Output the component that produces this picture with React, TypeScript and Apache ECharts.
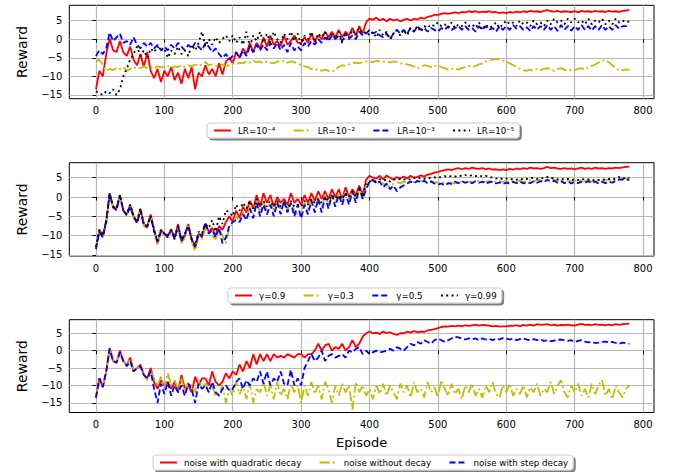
import React, { useEffect, useRef } from "react";
import * as echarts from "echarts";

// Episode positions of the sampled readings (every 5 episodes)
const EPISODES: number[] = Array.from({ length: 157 }, (_, i) => i * 5);
const X_TICKS = [0, 100, 200, 300, 400, 500, 600, 700, 800];
const Y_TICKS = [-15, -10, -5, 0, 5];

// ---- Panel 1: learning rates ----
const LR_1E4 = [
  -13.5, -8.5, -10, -4, 0.2, -3, -3.5, -0.5, -3.5, -4.5,
  -2, -5.5, -7, -4, -7.5, -3.5, -8.5, -10.5, -8, -11.5,
  -8.5, -10, -7.5, -11, -9, -12, -8, -10.5, -7.5, -13.5,
  -9, -10, -7, -9.5, -8, -10, -6.5, -9.5, -6, -5,
  -6.5, -3.5, -5, -2.5, -4, -1, -3.5, -1, -2.5, 0.5,
  -2, 1, -1.5, -0.5, -2, 1, -1.5, -0.5, 1, -1,
  -1, 0.5, -1, 1.5, -0.5, 1, 0, 2, 0.5, 2,
  0.5, 2.5, 0.5, 2, 1, 3, 1, 3.5, 1.5, 4.5,
  5.5, 5.2, 5.8, 5, 5.5, 4.8, 5.5, 5, 5.3, 4.8,
  5.2, 5.5, 5, 5.5, 5.3, 5.8, 5.5, 6, 6.2, 6.5,
  6.5, 6.8, 7, 6.8, 7, 7.2, 7, 7.3, 7.2, 7.5,
  7.3, 7.5, 7.2, 7.4, 7.3, 7.5, 7.2, 7.3, 7, 7.2,
  7, 7.3, 7.1, 7.4, 7.2, 7.5, 7.3, 7.6, 7.4, 7.5,
  7.3, 7.6, 7.8, 7.5, 7.4, 7.6, 7.3, 7.5, 7.4, 7.3,
  7.5, 7.2, 7.6, 7.4, 7.5, 7.3, 7.6, 7.4, 7.5, 7.3,
  7.6, 7.4, 7.5, 7.3, 7.6, 7.7, 7.8,
];
const LR_1E2 = [
  -6, -5.5, -7, -8.5, -8, -8.3, -7.8, -8, -7.5, -8.5,
  -8, -7.5, -8, -7.8, -7.3, -7.8, -7.5, -7.8, -7.3, -7.5,
  -7.5, -7.2, -7.8, -7.3, -7.5, -7, -7.5, -7, -7.3, -6.8,
  -7.2, -6.8, -6.2, -7, -6.8, -7.2, -7, -6.8, -7.2, -7,
  -6.5, -6.8, -6.3, -6.5, -6, -6.3, -5.8, -6.2, -6, -6.5,
  -6, -6.3, -6.5, -6, -6.2, -5.8, -6.3, -6, -6.2, -6.5,
  -7, -7.3, -7.5, -8, -8.3, -8, -8.5, -8.2, -8.5, -8.8,
  -8.2, -7.5, -7, -7.2, -6.8, -6.5, -6.3, -6.5, -6.2, -6,
  -6, -6.2, -5.8, -6, -6.1, -6, -6.3, -6, -6.2, -6.5,
  -6.6, -6.8, -7, -7.4, -7.8, -7.5, -7, -7.2, -7.5, -7.2,
  -7, -7.5, -7.8, -8.2, -8, -7.8, -8.2, -7.8, -7.5, -7.2,
  -7.5, -7.2, -6.8, -6.5, -6, -5.8, -5.5, -5.3, -5.5, -5.8,
  -6, -6.5, -7, -7.5, -8, -8.3, -8.5, -8.2, -8.5, -8,
  -8.3, -8, -7.8, -8.2, -8.5, -8, -7.8, -8.2, -8.5, -8.2,
  -8.3, -8, -7.8, -8.2, -7.5, -7.2, -6.8, -6.3, -5.8, -5.6,
  -6.2, -7, -7.8, -8.5, -8.3, -8.2, -8.2,
];
const LR_1E3 = [
  -4.5, -3, -4, -2.5, 1.8, -0.5, 0.5, 1.5, -1, -0.5,
  -1.5, 0.5, -1.5, -2.5, -1, -2, -1, -2.5, -1.5, -3,
  -2, -3, -1.5, -2.5, -1, -2, -3, -1.5, -2.5, -1,
  -2, -3, -1, -2, -3.5, -2.5, -4, -5, -4, -5.5,
  -4.5, -3.5, -5, -3, -4.5, -2, -3.5, -1.5, -3, -1.5,
  -3, -1, -2.5, -1, -3, -1.5, -3.5, -1, -3, -2,
  -3, -1, -2, -0.5, -1.5, 0, -1, 0.5, -0.5, 1,
  0, 1, -0.5, 1.5, 0, 1, 0, 2, 1, 1.5,
  2.5, 1.5, 2, 1, 0.5, 1.5, 0, 1.5, 2.5, 1.5,
  2.5, 1.5, 3, 2, 3.5, 2.5, 3, 2, 3, 2.5,
  2, 3, 2.5, 3.5, 2.5, 3, 3.5, 2.5, 3.5, 2.5,
  3, 2, 3.5, 2.5, 3.5, 2.5, 3, 2, 3.5, 2.5,
  3.5, 2.5, 3.8, 2.8, 3.5, 2.5, 3.2, 2.2, 3.5, 2.5,
  3.5, 2.5, 3.8, 2.5, 3.5, 2.2, 3.8, 2.5, 3.5, 2.3,
  3.5, 2.5, 3.8, 2.5, 3.5, 2.3, 3.5, 2.5, 3.8, 2.5,
  3.5, 2.5, 3.8, 2.8, 3.5, 3.5, 3.6,
];
const LR_1E5 = [
  -14, -14.5, -15, -14, -14.5, -13.5, -15, -13.5, -10, -8,
  -5.5, -4, -2, -4.5, -3, -5, -2.5, -3.5, -2, -3,
  -2.5, -5, -3, -4, -2, -4, -3, -4.5, -1.5, -3,
  -1, 2, -2, 0, -1.5, 0.5, -1, 0, 1, -0.5,
  1, -1, 0.5, -1.5, 2, -2, 1, -0.5, 2, -1,
  1.5, -1, 2, 0, -1, 1.5, 0, 2, -0.5, 1.5,
  -1.5, 1, 0, 2, -1, 1.5, 0.5, 2, -0.5, 1.5,
  0, 2, -1, 1.5, 0.5, 2.5, 1, 3, 1.5, 2,
  1, 2, 0.5, 2.5, 1, 2, 0, 1.5, 2.5, 1,
  2.5, 1, 3, 2, 3.5, 2, 3.5, 3, 4, 3.5,
  4.5, 3.5, 4, 3, 4.5, 3, 4, 3.5, 4.5, 3.5,
  4, 3, 4.5, 2.5, 4, 3, 3.5, 4.5, 3, 4,
  5, 4, 4.5, 3.5, 5, 4, 4.5, 3.5, 5, 4,
  4.5, 3.5, 5, 4, 5.5, 4.5, 5, 4, 5.5, 4.5,
  5.5, 4.5, 5, 4, 5.5, 4, 5, 4.5, 5.5, 4,
  5, 4, 5.5, 4.5, 5, 4.5, 4.8,
];

// ---- Panel 2: discount factors ----
const G_09 = [
  -13, -8.5, -10, -6.5, 1, -2.5, -3, 0.5, -3.5, -4.5,
  -2, -5, -6.5, -3, -7, -7.5, -4.5, -8.5, -12, -8.5,
  -9.5, -10, -8.5, -10.5, -7, -11.5, -10, -7, -11, -13,
  -9.5, -10.5, -7, -9, -8, -10, -7.5, -8.5, -6.5, -5,
  -6.5, -3.5, -5.5, -2.5, -4, -1, -3, 0.5, -2.5, 1,
  -1.5, 0.5, -2.5, 0, -1.5, -0.5, -2, 1, -1.5, -0.5,
  -2, 0.5, -1.5, 1, -1, 1.5, -0.5, 1.5, -0.5, 2,
  0, 2, -0.5, 2.5, 0, 2, 0.5, 3, 0.5, 4.5,
  5.5, 5, 4.8, 5.5, 4.6, 5.6, 5, 4.5, 5.2, 4.8,
  5.3, 4.8, 5.5, 5, 5.2, 5.6, 5.3, 5.8, 6, 6.3,
  6.5, 6.8, 7, 7.2, 7, 7.3, 7.5, 7.2, 7.5, 7.3,
  7.6, 7.4, 7.3, 7.5, 7.2, 7.4, 7.1, 7.2, 7, 7.2,
  7, 7.3, 7.1, 7.4, 7.2, 7.5, 7.3, 7.6, 7.4, 7.5,
  7.3, 7.5, 7.8, 7.5, 7.6, 7.4, 7.3, 7.5, 7.3, 7.4,
  7.2, 7.4, 7.6, 7.3, 7.5, 7.3, 7.6, 7.4, 7.5, 7.3,
  7.5, 7.4, 7.6, 7.5, 7.7, 7.8, 7.9,
];
const G_03 = [
  -13, -9, -10.5, -6.5, 0.5, -3, -3, 0, -3.5, -4.5,
  -2.5, -5.5, -6.5, -3.5, -7.5, -8, -5, -8.5, -12.5, -9,
  -10, -10.5, -8, -11, -7.5, -12, -10.5, -7.5, -11.5, -14,
  -10, -11, -8, -9.5, -10, -11, -8.5, -10, -12, -8,
  -7, -5, -6.5, -4, -5.5, -2.5, -4.5, -1, -4, -1,
  -3.5, -1.5, -3.5, -1, -3, -1.5, -3.5, -1.5, -3.5, -4.5,
  -4.5, -1.5, -3, -0.5, -2.5, -0.5, -2.5, 0.5, -2, 0.5,
  -1.5, 1, -1, 1.5, -0.5, 1.5, -0.5, 2, -0.5, 3,
  4, 4.2, 3.5, 4, 3.5, 3, 2.5, 3.5, 3.8, 3.5,
  4, 3.7, 4.2, 3.8, 4, 4.2, 3.8, 4, 4.2, 3.8,
  3.8, 3.5, 3.8, 3.5, 3.7, 3.5, 3.8, 4, 3.7, 4,
  3.8, 4, 4.2, 3.8, 4, 4.2, 3.8, 4, 4.2, 3.9,
  4.1, 3.9, 4.2, 4, 4.3, 3.9, 4.2, 4.4, 4, 4.3,
  4.4, 4, 4.5, 5, 4.5, 4.2, 4.4, 4, 4.3, 4.1,
  4.3, 4, 4.4, 4.1, 4.3, 4, 4.2, 4.4, 4.1, 4.3,
  4.5, 4.2, 4.6, 4.8, 5, 4.8, 5,
];
const G_05 = [
  -13.5, -9, -10.5, -6, 0.8, -2.5, -3.5, 0.3, -3.5, -4.8,
  -2.5, -5, -6.8, -3.5, -7.3, -7.8, -5, -9, -11.5, -9,
  -9.5, -10.5, -8.5, -11, -7.5, -11.5, -9.5, -7.5, -11, -13,
  -9.5, -10, -6.5, -9.5, -8.5, -10.5, -8, -12, -10.5, -7.5,
  -6.5, -6, -6.5, -4.5, -6, -3, -5.5, -1.5, -5, -2,
  -4.5, -2, -5, -1.5, -4.5, -1, -4, -1.5, -5, -2,
  -5.5, -2, -4.5, -1, -4, -0.5, -4, 0, -3, 0.5,
  -2.5, 0.5, -2, 1, -2, 1.5, -1.5, 2.5, -0.5, 2,
  4, 4.5, 3.5, 4, 2.5, 3.5, 2, 3, 1.5, 2.5,
  3, 3.5, 4, 3.5, 4.2, 3.8, 4.2, 3.5, 4, 3.5,
  3.2, 3.5, 3, 3.6, 3.4, 4, 3.6, 4.1, 3.7, 4,
  3.6, 4.1, 3.7, 4, 3.5, 3.8, 4, 3.5, 3.8, 3.4,
  3.7, 3.5, 3.9, 3.6, 4, 3.5, 3.9, 3.6, 4.1, 3.7,
  4.1, 3.8, 4.5, 4, 4.2, 3.7, 4.1, 3.6, 4, 3.5,
  3.9, 3.6, 4, 3.7, 4.1, 3.6, 4, 3.5, 3.9, 3.6,
  4, 3.7, 4.2, 4.5, 4.6, 4.4, 4.5,
];
const G_099 = [
  -13, -8.5, -10, -6.5, 0.8, -2.5, -3, 0.5, -3.5, -4.5,
  -2, -5, -6.5, -3, -7, -7.5, -5, -8.5, -11.5, -8.5,
  -9.5, -10, -8.5, -10.5, -7.5, -11, -9.5, -7.5, -11, -12.5,
  -9, -9.5, -7, -8, -6, -9, -5, -7, -3.5, -4,
  -5, -2, -3.5, -1.5, -3, -1, -3, -0.5, -2.5, -1,
  -2.5, -1, -2.5, -1, -2.5, -1.5, -3, -1, -2.5, -2,
  -2.5, -1, -2, -0.5, -1.5, -0.5, -1.5, 0, -1, 0.5,
  -0.5, 0.5, -0.5, 1, 0, 1.5, 0, 2, 0, 3.5,
  4, 4.2, 4, 4.6, 4.3, 4.5, 4, 4.6, 4.4, 4.7,
  4.5, 4.8, 4.5, 5, 4.8, 5, 4.7, 5, 4.9, 5.1,
  5, 5.2, 5.4, 5.2, 5.5, 5.3, 5.6, 5.4, 5.7, 5.5,
  5.6, 5.4, 5.6, 5.3, 5.5, 5.2, 5, 4.8, 5, 4.6,
  4.8, 4.5, 4.7, 4.5, 4.8, 4.5, 4.7, 4.9, 5, 4.7,
  5, 4.8, 5.2, 5, 4.8, 4.6, 4.8, 4.5, 4.7, 4.4,
  4.6, 4.4, 4.7, 4.5, 4.6, 4.3, 4.5, 4.4, 4.6, 4.5,
  4.7, 4.5, 4.8, 5.2, 4.8, 4.9, 5,
];

// ---- Panel 3: exploration noise ----
const NOISE_QUAD = [
  -13.5, -8, -10.5, -6, 0.8, -3, -3.5, 0, -3, -4,
  -2, -6, -5, -4, -7, -8, -5, -9, -11, -8.5,
  -10, -9, -11, -9, -12, -7, -11, -10, -12, -7.5,
  -10, -8, -8, -10, -6, -9, -10, -9, -6.5, -8,
  -6, -7, -4, -6, -3, -5, -1, -4, -1, -3,
  -1, -3, -1, -2, -1.5, -2, -1, -1.5, -2, -1,
  -1, -2, -1, -1, 0, 2, 0, 1.5, 2, 0,
  1, 0.5, 2, 0, 1, 3, 1, 2, 4, 5,
  5.5, 5, 5.2, 4.8, 5.5, 5, 5.3, 4.8, 4.5, 5,
  5, 5.5, 5.2, 5.6, 5.3, 5.5, 5.4, 5.8, 6, 6.2,
  6.5, 6.8, 7, 6.9, 7.1, 7, 7.2, 7, 7.3, 7.1,
  7.3, 7.5, 7.2, 7.4, 7.3, 7.2, 7, 7.1, 6.9, 7,
  7, 7.2, 7.1, 7.3, 7, 7.4, 7.2, 7.5, 7.2, 7.6,
  7.4, 7.5, 7.6, 7.3, 7.5, 7.2, 7.4, 7.3, 7.5, 7.3,
  7.2, 7.5, 7.7, 7.4, 7.5, 7.3, 7.6, 7.4, 7.5, 7.3,
  7.5, 7.3, 7.6, 7.4, 7.6, 7.7, 7.8,
];
const NOISE_NONE = [
  -13, -9, -10, -6, 0.3, -3, -3, -0.5, -3, -4,
  -2.5, -5.5, -5, -4.5, -7, -8.5, -6, -8, -10, -7.5,
  -11, -6.5, -10, -8.5, -11, -8, -12, -9, -10, -12,
  -8.5, -11, -9, -12, -10, -13, -12.5, -10, -15, -11,
  -13, -9, -12.5, -10, -14, -9.5, -15, -11, -12, -9,
  -13, -10, -14, -9, -13, -11, -14, -9.5, -12, -10,
  -15, -10, -13, -9, -12.5, -10, -14, -9, -11, -15,
  -10, -13, -9.5, -12, -10, -17, -9, -12, -10, -13,
  -11, -14, -10, -12.5, -9.5, -13, -10, -12, -14, -9.5,
  -12, -10, -13.5, -9, -12, -11, -13.5, -9, -12, -10.5,
  -13.5, -8.5, -11, -13, -9.5, -12.5, -11, -14, -10, -12,
  -9.5, -13, -11, -13.5, -10, -12, -9, -12.5, -13.5, -10,
  -12, -9.5, -13, -11, -12.5, -10, -13.5, -10.5, -12, -9.5,
  -13, -11, -12, -9, -12.5, -10, -8.5, -12, -13.5, -10,
  -12, -9.5, -13, -11, -13.5, -9.5, -12.5, -10, -8.5, -13,
  -11, -14, -10, -12, -13.5, -11, -10,
];
const NOISE_STEP = [
  -13.5, -8, -10.5, -6, 0.5, -3, -3.5, -0.5, -3, -4.5,
  -3, -6, -5, -4.5, -7, -8, -6, -11, -15, -9.5,
  -12.5, -9, -13, -10, -12, -10, -13, -9.5, -11, -15,
  -9.5, -11, -10, -12, -9, -12, -13, -11, -10, -11.5,
  -11, -9, -8, -11, -8.5, -10, -8, -9, -6, -9.5,
  -6, -10, -8, -9, -6, -9.5, -10, -5.5, -10, -8,
  -10, -5, -3, -1, -3, -2, 0, -3, -1.5, -1,
  -2, -1.5, -1, -2, 0, -0.5, 0.5, 1, -1, 0,
  -1, -0.5, 0, -0.5, -0.3, 0, 0.5, 0, 1, 0.5,
  0, 1, 2, 1.5, 2.5, 2, 3, 2.5, 2, 3,
  3.5, 3, 2.5, 3, 3.5, 4, 3.8, 3.5, 3.2, 3.5,
  3.3, 3.5, 3, 3.5, 3.2, 3.4, 3, 3.5, 3.2, 3.6,
  3.5, 3.2, 3.4, 3, 3.3, 3.5, 3.2, 3, 3.3, 3,
  3.2, 2.8, 3, 2.7, 2.9, 3.1, 3.2, 3, 2.8, 3,
  2.5, 2.8, 3, 2.6, 2.4, 2.5, 2.2, 2.3, 2.5, 2.6,
  2.3, 2.5, 2.2, 2, 2.3, 2.1, 2,
];

const RED = "#ff0000";
const YEL = "#bfbf00";
const BLU = "#0000ff";
const BLK = "#000000";
const SOLID = "solid";
const DASHDOT = [10, 3, 2, 3];
const DASHED = [6, 3];
const DOTTED = [2, 3.3];
const FONT = "DejaVu Sans";

const pts = (vals: number[]) => vals.map((v, i) => [EPISODES[i], v]);

export default function App() {
  const ref = useRef<HTMLDivElement>(null);
  useEffect(() => {
    const chart = echarts.init(ref.current!, null, { renderer: "svg" });
    const panels = [
      { top: 5.3, height: 93.4, min: -16.0, max: 9.1 },
      { top: 162.7, height: 93.3, min: -15.3, max: 8.9 },
      { top: 319.7, height: 92.8, min: -17.8, max: 8.9 },
    ];
    const minus = (v: number) => String(v).replace("-", "\u2212");
    const grid = panels.map((p) => ({
      left: 69.3,
      top: p.top,
      width: 584.7,
      height: p.height,
      show: true,
      borderColor: "#000",
      borderWidth: 1,
      backgroundColor: "transparent",
    }));
    const xAxis = panels.map((p, i) => ({
      type: "value",
      gridIndex: i,
      min: -39,
      max: 816,
      name: i === 2 ? "Episode" : "",
      nameLocation: "middle",
      nameGap: 23,
      nameTextStyle: { fontFamily: FONT, fontSize: 13, color: "#000" },
      axisLine: { show: false },
      axisTick: { show: true, inside: false, length: 3.5, customValues: X_TICKS, lineStyle: { color: "#000", width: 1 } },
      axisLabel: { customValues: X_TICKS, margin: 7, fontFamily: FONT, fontSize: 10, color: "#000", formatter: minus },
      splitLine: { show: true, lineStyle: { color: "#b8b8b8", width: 1.2 } },
    }));
    const yAxis = panels.map((p, i) => ({
      type: "value",
      gridIndex: i,
      min: p.min,
      max: p.max,
      name: "Reward",
      nameLocation: "middle",
      nameRotate: 90,
      nameGap: 40,
      nameTextStyle: { fontFamily: FONT, fontSize: 14, color: "#000" },
      axisLine: { show: false },
      axisTick: { show: true, inside: false, length: 3.5, customValues: Y_TICKS, lineStyle: { color: "#000", width: 1 } },
      axisLabel: { customValues: Y_TICKS, margin: 7, fontFamily: FONT, fontSize: 10, color: "#000", formatter: minus },
      splitLine: { show: true, lineStyle: { color: "#b8b8b8", width: 1.2 } },
    }));
    const mk = (name: string, vals: number[], color: string, type: any, idx: number) => ({
      name,
      type: "line",
      xAxisIndex: idx,
      yAxisIndex: idx,
      data: pts(vals),
      symbol: "none",
      showSymbol: false,
      lineStyle: { color, width: 1.8, type },
      itemStyle: { color },
      silent: true,
    });
    const series = [
      mk("LR=10\u207B\u2074", LR_1E4, RED, SOLID, 0),
      mk("LR=10\u207B\u00B2", LR_1E2, YEL, DASHDOT, 0),
      mk("LR=10\u207B\u00B3", LR_1E3, BLU, DASHED, 0),
      mk("LR=10\u207B\u2075", LR_1E5, BLK, DOTTED, 0),
      mk("\u03B3=0.9", G_09, RED, SOLID, 1),
      mk("\u03B3=0.3", G_03, YEL, DASHDOT, 1),
      mk("\u03B3=0.5", G_05, BLU, DASHED, 1),
      mk("\u03B3=0.99", G_099, BLK, DOTTED, 1),
      mk("noise with quadratic decay", NOISE_QUAD, RED, SOLID, 2),
      mk("noise without decay", NOISE_NONE, YEL, DASHDOT, 2),
      mk("noise with step decay", NOISE_STEP, BLU, DASHED, 2),
    ];
    const legendBase = {
      orient: "horizontal",
      selectedMode: false,
      itemWidth: 17,
      itemHeight: 8,
      itemGap: 17.4,
      padding: [3, 5, 3, 6],
      backgroundColor: "#fff",
      borderColor: "#cccccc",
      borderWidth: 1,
      borderRadius: 3,
      shadowColor: "rgba(0,0,0,0.5)",
      shadowOffsetX: 2,
      shadowOffsetY: 2,
      shadowBlur: 0,
      itemStyle: { opacity: 0, borderWidth: 0 },
      lineStyle: { width: 2 },
      textStyle: { fontFamily: FONT, fontSize: 8.7, color: "#000", padding: [0, 0, 0, 2] },
    };
    const legend = [
      { ...legendBase, left: 207, top: 123, data: series.slice(0, 4).map((s) => s.name) },
      { ...legendBase, left: 228, top: 288, data: series.slice(4, 8).map((s) => s.name) },
      { ...legendBase, left: 153, top: 455, data: series.slice(8).map((s) => s.name) },
    ];
    chart.setOption({
      animation: false,
      backgroundColor: "#fff",
      grid,
      xAxis,
      yAxis,
      legend,
      series,
    } as any);
    return () => chart.dispose();
  }, []);
  return (
    <div
      ref={ref}
      style={{ position: "fixed", left: 0, top: 0, width: 673, height: 472, background: "#fff" }}
    />
  );
}
